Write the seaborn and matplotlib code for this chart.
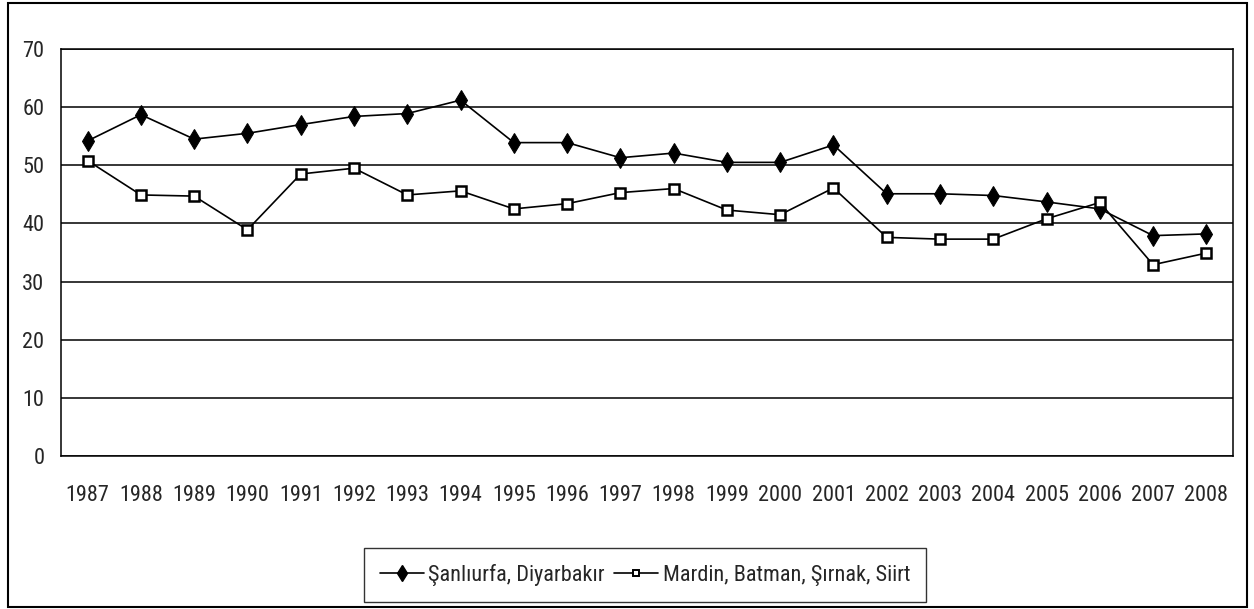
import pandas as pd
import matplotlib.pyplot as plt
import seaborn as sns
from matplotlib.patches import Rectangle
from matplotlib.ticker import FixedLocator

# Data
years = [str(y) for y in range(1987, 2009)]
sanliurfa_diyarbakir = [54.2, 58.7, 54.5, 55.5, 57.0, 58.4, 58.9, 61.2, 53.9, 53.9, 51.3,
                        52.1, 50.5, 50.5, 53.5, 45.1, 45.1, 44.8, 43.7, 42.5, 37.9, 38.2]
mardin_batman = [50.8, 44.9, 44.7, 38.9, 48.5, 49.5, 44.9, 45.6, 42.5, 43.4, 45.3,
                 46.0, 42.3, 41.5, 46.1, 37.6, 37.3, 37.3, 40.8, 43.6, 32.9, 34.9]
series_names = ["Şanlıurfa, Diyarbakır", "Mardin, Batman, Şırnak, Siirt"]

df = pd.DataFrame({
    "year": years * 2,
    "value": sanliurfa_diyarbakir + mardin_batman,
    "series": [series_names[0]] * len(years) + [series_names[1]] * len(years),
})

sns.set_style("white")
plt.rcParams['font.family'] = ['Liberation Sans Narrow', 'Arial Narrow', 'Roboto Condensed',
                               'Archivo Narrow', 'Liberation Sans', 'DejaVu Sans']

fig = plt.figure(figsize=(12.54, 6.09), dpi=100)
# plot area: x 61..1233 px, y 49..456 px
ax = fig.add_axes([61 / 1254, 1 - 456 / 609, 1172 / 1254, 407 / 609])

sns.lineplot(data=df, x="year", y="value", hue="series", style="series",
             palette=["black", "black"], markers=["d", "s"], dashes=False,
             markersize=8, linewidth=1.2, ax=ax, legend=False, sort=False)

# marker styling: filled thin diamond, outlined square
lines = ax.get_lines()
lines[0].set_markerfacecolor("black")
lines[0].set_markeredgecolor("black")
lines[0].set_markersize(10)
lines[1].set_markerfacecolor("white")
lines[1].set_markeredgecolor("black")
lines[1].set_markeredgewidth(1.8)
lines[1].set_markersize(7)

# Formatting
ax.set_xlim(-0.5, len(years) - 0.5)
ax.set_ylim(0, 70)
ax.set_yticks(range(0, 71, 10))
ax.yaxis.grid(True, color="black", linewidth=1.1)
ax.xaxis.grid(False)
ax.set_xlabel("")
ax.set_ylabel("")
ax.xaxis.set_minor_locator(FixedLocator([i - 0.5 for i in range(len(years) + 1)]))
ax.tick_params(axis="x", which="major", length=0, labelsize=16, pad=21)
ax.tick_params(axis="x", which="minor", length=6, width=1, color="black", direction="out")
ax.tick_params(axis="y", length=4, width=1, color="black", labelsize=16, pad=8)
for s in ax.spines.values():
    s.set_color("black")
    s.set_linewidth(1.1)

# Legend
handles = [plt.Line2D([], [], color="black", marker="d", markersize=8, lw=1.2),
           plt.Line2D([], [], color="black", marker="s", markersize=5, lw=1.2,
                      markerfacecolor="white", markeredgewidth=1.4)]
fig.legend(handles, series_names, loc="center", bbox_to_anchor=(645 / 1254, 1 - 575 / 609),
           ncol=2, fontsize=16, frameon=True, fancybox=False, edgecolor="black",
           handlelength=2.0, handletextpad=0.2, columnspacing=0.4,
           borderpad=0.7, borderaxespad=0)

# Outer border around the chart
fig.patches.append(Rectangle((8 / 1254, 2 / 609), 1239 / 1254, 604 / 609,
                             transform=fig.transFigure,
                             fill=False, edgecolor="black", linewidth=1.5))

plt.savefig("out.png", dpi=100)
